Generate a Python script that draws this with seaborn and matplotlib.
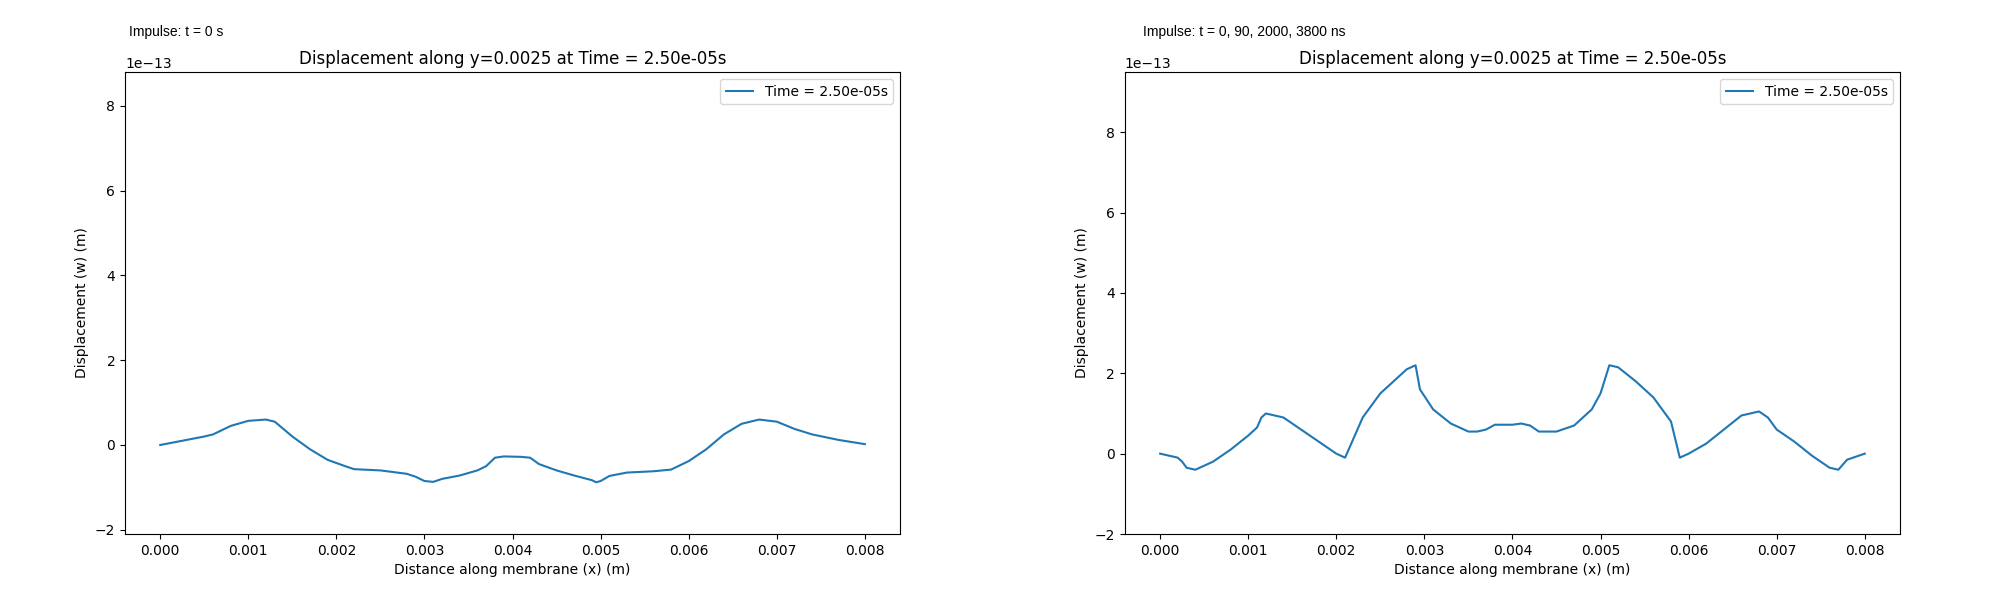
import numpy as np
import pandas as pd
import matplotlib
matplotlib.use('Agg')
import matplotlib.pyplot as plt
import seaborn as sns

# left panel: impulse at t = 0
x_left = [0, 0.0005, 0.0006, 0.0008, 0.001, 0.0012, 0.0013, 0.0015, 0.0017, 0.0019, 0.0021, 0.0022,
          0.0025, 0.0028, 0.0029, 0.003, 0.0031, 0.0032, 0.0034, 0.0036, 0.0037, 0.0038, 0.0039,
          0.0041, 0.0042, 0.0043, 0.0045, 0.0047, 0.0049, 0.00495, 0.005, 0.0051, 0.0053, 0.0056,
          0.0058, 0.006, 0.0062, 0.0064, 0.0066, 0.0068, 0.007, 0.0072, 0.0074, 0.0077, 0.008]
w_left = [0, 0.2, 0.25, 0.45, 0.57, 0.6, 0.55, 0.2, -0.1, -0.35, -0.5, -0.57,
          -0.6, -0.68, -0.75, -0.85, -0.87, -0.8, -0.72, -0.6, -0.5, -0.3, -0.27,
          -0.28, -0.3, -0.45, -0.6, -0.72, -0.83, -0.88, -0.85, -0.73, -0.65, -0.62,
          -0.58, -0.38, -0.1, 0.25, 0.5, 0.6, 0.55, 0.38, 0.25, 0.12, 0.02]

# right panel: impulses at t = 0, 90, 2000, 3800 ns
x_right = [0, 0.0002, 0.00025, 0.0003, 0.0004, 0.0005, 0.0006, 0.0008, 0.001, 0.0011, 0.00115, 0.0012,
           0.0014, 0.0016, 0.0018, 0.002, 0.0021, 0.0023, 0.0025, 0.0027, 0.0028, 0.0029, 0.00295,
           0.0031, 0.0033, 0.0035, 0.0036, 0.0037, 0.0038, 0.004, 0.0041, 0.0042, 0.0043, 0.0045,
           0.0047, 0.0049, 0.005, 0.0051, 0.0052, 0.0054, 0.0056, 0.0058, 0.0059, 0.006, 0.0062,
           0.0064, 0.0066, 0.0068, 0.0069, 0.007, 0.0072, 0.0074, 0.0076, 0.0077, 0.0078, 0.008]
w_right = [0, -0.1, -0.2, -0.35, -0.4, -0.3, -0.2, 0.1, 0.45, 0.65, 0.9, 1.0,
           0.9, 0.6, 0.3, 0.0, -0.1, 0.9, 1.5, 1.9, 2.1, 2.2, 1.6,
           1.1, 0.75, 0.55, 0.55, 0.6, 0.72, 0.72, 0.75, 0.7, 0.55, 0.55,
           0.7, 1.1, 1.5, 2.2, 2.15, 1.8, 1.4, 0.8, -0.1, 0.0, 0.25,
           0.6, 0.95, 1.05, 0.9, 0.6, 0.3, -0.05, -0.35, -0.4, -0.15, 0]

panels = [
    (x_left, w_left, 'Impulse: t = 0 s', (-2.1, 8.8), 0.0645),
    (x_right, w_right, 'Impulse: t = 0, 90, 2000, 3800 ns', (-2.0, 9.5), 0.5715),
]

fig, axes = plt.subplots(1, 2, figsize=(20, 6), dpi=100)
plt.subplots_adjust(left=0.0625, right=0.95, bottom=0.11, top=0.88, wspace=0.29)

for ax, (xs, ws, note, ylim, note_x) in zip(axes, panels):
    df = pd.DataFrame({'x': xs, 'w': np.array(ws) * 1e-13})
    sns.lineplot(data=df, x='x', y='w', ax=ax, label='Time = 2.50e-05s', color='tab:blue')
    ax.set_ylim(ylim[0] * 1e-13, ylim[1] * 1e-13)
    ax.set_title('Displacement along y=0.0025 at Time = 2.50e-05s', fontsize=12)
    ax.set_xlabel('Distance along membrane (x) (m)')
    ax.set_ylabel('Displacement (w) (m)')
    ax.legend(loc='upper right')
    fig.text(note_x, 0.94, note, fontsize=10, family='Liberation Sans')

plt.savefig('out.png')
